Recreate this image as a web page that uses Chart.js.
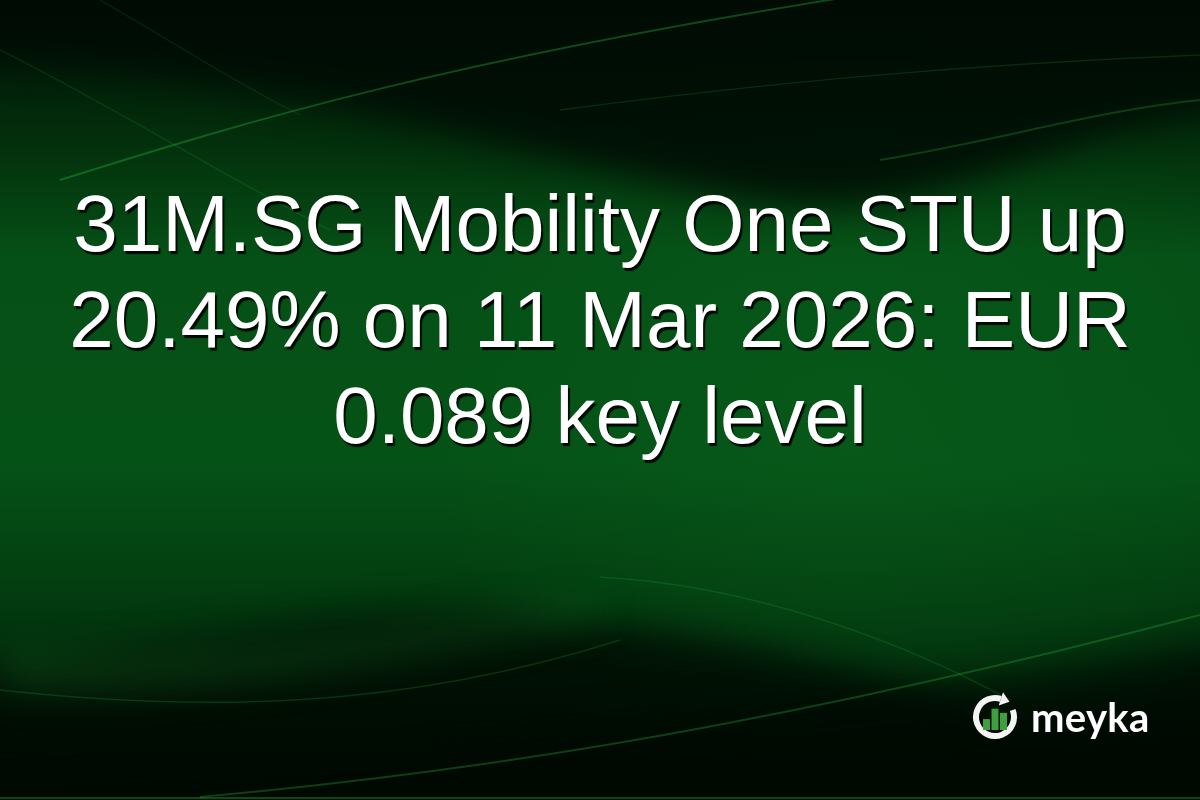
<!DOCTYPE html>
<html>
<head>
<meta charset="utf-8">
<script src="https://cdn.jsdelivr.net/npm/chart.js@4.4.1/dist/chart.umd.min.js"></script>
<style>
  html, body { margin: 0; padding: 0; background: #021a07; }
  .wrap { position: relative; width: 1200px; height: 800px; overflow: hidden; }
  #card { position: absolute; left: 0; top: 0; }
  .headline {
    position: absolute; left: 0; top: 176px; width: 1200px;
    text-align: center; color: #fff;
    font-family: "Liberation Sans", Arial, sans-serif;
    font-size: 80px; line-height: 96px;
    text-shadow: 2px 3px 1px rgba(0,0,0,0.9);
  }
  .brand {
    position: absolute; left: 1031px; top: 693px;
    color: #fff; font-family: Lato, "Open Sans", sans-serif;
    font-weight: 700; font-size: 40px; letter-spacing: 0.3px;
  }
</style>
</head>
<body>
<div class="wrap">
  <canvas id="card" width="1200" height="800"></canvas>
  <div class="headline" id="headline"></div>
  <div class="brand">meyka</div>
</div>
<script>
// Teks judul (gambar ini tidak memuat data numerik untuk diplot)
const headlineLines = [
    '31M.SG Mobility One STU up',
    '20.49% on 11 Mar 2026: EUR',
    '0.089 key level'
];
// tinggi relatif batang di dalam logo
const logoBars = [0.42, 0.82, 0.66];

document.getElementById('headline').innerHTML = headlineLines.join('<br>');

function curve(ctx, pts) {
    ctx.moveTo(pts[0][0], pts[0][1]);
    for (let i = 1; i < pts.length; i += 3) {
        ctx.bezierCurveTo(pts[i][0], pts[i][1], pts[i + 1][0], pts[i + 1][1], pts[i + 2][0], pts[i + 2][1]);
    }
}

// Plugin untuk latar belakang hijau bergelombang dan logo
const backgroundPlugin = {
    id: 'greenWaves',
    beforeDraw(chart) {
        const ctx = chart.ctx;
        const w = chart.width, h = chart.height;
        ctx.save();
        const g = ctx.createLinearGradient(0, 0, 0, h);
        g.addColorStop(0, '#011006');
        g.addColorStop(0.18, '#03300c');
        g.addColorStop(0.32, '#055016');
        g.addColorStop(0.58, '#055217');
        g.addColorStop(0.76, '#033a0f');
        g.addColorStop(1, '#010c04');
        ctx.fillStyle = g;
        ctx.fillRect(0, 0, w, h);

        // sedikit lebih terang di kanan tengah
        const rg = ctx.createRadialGradient(850, 430, 10, 850, 430, 420);
        rg.addColorStop(0, 'rgba(10,100,30,0.35)');
        rg.addColorStop(1, 'rgba(10,100,30,0)');
        ctx.fillStyle = rg;
        ctx.fillRect(0, 0, w, h);

        // bayangan gelap (lembut)
        ctx.filter = 'blur(18px)';
        ctx.fillStyle = 'rgba(0,10,3,0.85)';
        ctx.beginPath();
        ctx.moveTo(-40, -40);
        ctx.lineTo(1240, -40);
        ctx.lineTo(1240, 110);
        ctx.bezierCurveTo(1050, 120, 950, 230, 760, 200);
        ctx.bezierCurveTo(560, 170, 300, 70, -40, 60);
        ctx.closePath();
        ctx.fill();

        ctx.fillStyle = 'rgba(0,10,3,0.8)';
        ctx.beginPath();
        ctx.moveTo(-40, 840);
        ctx.lineTo(-40, 670);
        ctx.bezierCurveTo(150, 660, 330, 600, 500, 615);
        ctx.bezierCurveTo(650, 625, 800, 650, 950, 700);
        ctx.bezierCurveTo(1050, 730, 1150, 700, 1240, 690);
        ctx.lineTo(1240, 840);
        ctx.closePath();
        ctx.fill();

        ctx.fillStyle = 'rgba(0,8,2,0.7)';
        ctx.beginPath();
        ctx.moveTo(-40, 840);
        ctx.lineTo(-40, 760);
        ctx.bezierCurveTo(300, 745, 700, 740, 1240, 640);
        ctx.lineTo(1240, 840);
        ctx.closePath();
        ctx.fill();

        // pita terang lembut
        ctx.fillStyle = 'rgba(20,110,35,0.35)';
        ctx.beginPath();
        ctx.moveTo(0, 690);
        ctx.bezierCurveTo(200, 700, 400, 660, 600, 620);
        ctx.lineTo(600, 600);
        ctx.bezierCurveTo(400, 630, 200, 660, 0, 650);
        ctx.closePath();
        ctx.fill();
        ctx.filter = 'none';

        // garis-garis terang tipis
        const strokes = [
            [[[60, 180], [250, 120], [450, 60], [860, -5]], 0.35, 2],
            [[[560, 110], [750, 85], [950, 65], [1200, 55]], 0.18, 1.5],
            [[[880, 160], [1000, 140], [1100, 110], [1200, 100]], 0.25, 2],
            [[[0, 50], [120, 110], [230, 180], [330, 230]], 0.15, 1.5],
            [[[100, 0], [170, 40], [230, 80], [300, 115]], 0.12, 1.5],
            [[[0, 690], [200, 712], [400, 710], [620, 640]], 0.2, 1.5],
            [[[200, 797], [500, 770], [800, 720], [1200, 615]], 0.3, 2],
            [[[600, 577], [750, 585], [900, 640], [1010, 700]], 0.18, 1.5],
            [[[0, 798], [400, 798], [800, 798], [1200, 798]], 0.35, 2]
        ];
        strokes.forEach(s => {
            ctx.strokeStyle = 'rgba(40,190,70,' + s[1] + ')';
            ctx.lineWidth = s[2];
            ctx.beginPath();
            curve(ctx, s[0]);
            ctx.stroke();
        });

        // logo: cincin dengan panah searah jarum jam
        const cx = 995, cy = 717, r = 19;
        const startA = -0.12 * Math.PI;
        const endA = -0.40 * Math.PI + 2 * Math.PI;
        ctx.strokeStyle = '#f4f4f4';
        ctx.lineWidth = 6;
        ctx.beginPath();
        ctx.arc(cx, cy, r, startA, endA);
        ctx.stroke();
        const px = cx + r * Math.cos(endA), py = cy + r * Math.sin(endA);
        const tx = -Math.sin(endA), ty = Math.cos(endA);
        const nx = Math.cos(endA), ny = Math.sin(endA);
        ctx.fillStyle = '#f4f4f4';
        ctx.beginPath();
        ctx.moveTo(px + tx * 9, py + ty * 9);
        ctx.lineTo(px + nx * 7, py + ny * 7);
        ctx.lineTo(px - nx * 7, py - ny * 7);
        ctx.closePath();
        ctx.fill();
        ctx.fillStyle = '#3f9f3f';
        logoBars.forEach((v, i) => {
            const bh = v * 26;
            ctx.fillRect(cx - 12 + i * 8.5, cy + 13 - bh, 7, bh);
        });
        ctx.restore();
    }
};

new Chart(document.getElementById('card'), {
    type: 'line',
    data: { labels: [], datasets: [] },
    options: {
        responsive: false,
        animation: false,
        events: [],
        layout: { padding: 0 },
        scales: { x: { display: false }, y: { display: false } },
        plugins: { legend: { display: false }, tooltip: { enabled: false } }
    },
    plugins: [backgroundPlugin]
});
</script>
</body>
</html>
